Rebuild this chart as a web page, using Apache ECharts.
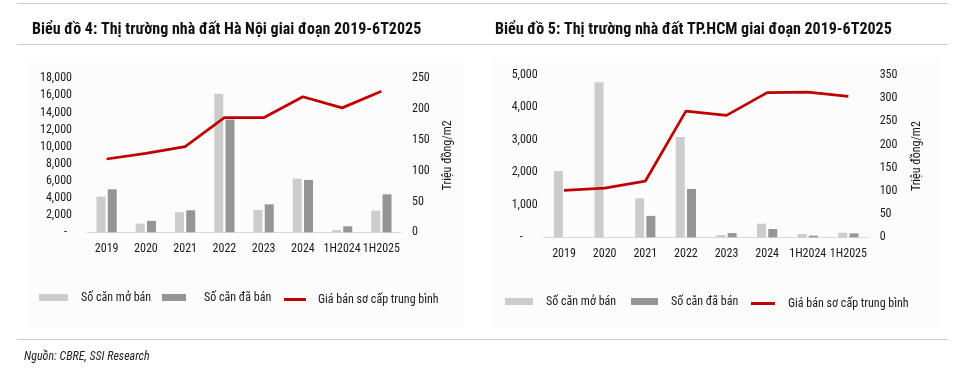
<!DOCTYPE html>
<html>
<head>
<meta charset="utf-8">
<script src="https://cdn.jsdelivr.net/npm/echarts@6/dist/echarts.min.js"></script>
<style>
html,body{margin:0;padding:0;background:#fff;}
#c{width:959px;height:374px;}
</style>
</head>
<body>
<div id="c"></div>
<script>
// ---- data ----
var categories = ['2019','2020','2021','2022','2023','2024','1H2024','1H2025'];
// Hà Nội
var hnOpened = [4170, 1010, 2340, 16200, 2610, 6270, 270, 2530];
var hnSold   = [5030, 1330, 2570, 13170, 3270, 6120, 700, 4440];
var hnPrice  = [119, 128, 139, 186, 186, 220, 202, 229];
// TP.HCM
var hcmOpened = [2040, 4780, 1200, 3090, 70, 420, 100, 140];
var hcmSold   = [0, 0, 660, 1490, 130, 255, 50, 120];
var hcmPrice  = [101, 106, 121, 272, 263, 312, 313, 304];
// axis ticks
var hnLeftTicks = {min:0, max:18000, interval:2000};
var hnRightTicks = {min:0, max:250, interval:50};
var hcmLeftTicks = {min:0, max:5000, interval:1000};
var hcmRightTicks = {min:0, max:350, interval:50};
var seriesNames = ['Số căn mở bán','Số căn đã bán','Giá bán sơ cấp trung bình'];
var titles = ['Biểu đồ 4: Thị trường nhà đất Hà Nội giai đoạn 2019-6T2025','Biểu đồ 5: Thị trường nhà đất TP.HCM giai đoạn 2019-6T2025'];
var axisName = 'Triệu đồng/m2';
var sourceText = 'Nguồn: CBRE, SSI Research';

var FONT = '"Roboto Condensed", sans-serif';
var LIGHT = '#cccccc', DARK = '#959595', RED = '#c00000', TXT = '#1a1a1a';

function fmtLeft(padRight){
  return {
    formatter: function(v){ return v === 0 ? '{z|-}' : v.toLocaleString('en-US'); },
    rich: { z: { padding:[0,padRight,0,0], fontFamily:FONT, fontSize:12, color:TXT } }
  };
}

var chart = echarts.init(document.getElementById('c'), null, {renderer:'canvas'});

var grids = [
  {left:87, top:78.3, width:314, height:154},
  {left:543.7, top:75, width:325, height:162.3}
];

function xAx(gi, margin){
  return {type:'category', gridIndex:gi, data:categories,
    axisLine:{lineStyle:{color:'#d9d9d9', width:1}}, axisTick:{show:false},
    axisLabel:{color:TXT, fontFamily:FONT, fontSize:12, margin:margin, interval:0}};
}
function yLeft(gi, t, pad, margin){
  var f = fmtLeft(pad);
  return {type:'value', gridIndex:gi, min:t.min, max:t.max, interval:t.interval,
    splitLine:{show:false}, axisLine:{show:false}, axisTick:{show:false},
    axisLabel:{color:TXT, fontFamily:FONT, fontSize:12, margin:margin, formatter:f.formatter, rich:f.rich}};
}
function yRight(gi, t, gap){
  return {type:'value', gridIndex:gi, position:'right', min:t.min, max:t.max, interval:t.interval,
    splitLine:{show:false}, axisLine:{show:false}, axisTick:{show:false},
    name:axisName, nameLocation:'middle', nameRotate:90, nameGap:gap,
    nameTextStyle:{color:TXT, fontFamily:FONT, fontSize:12},
    axisLabel:{color:TXT, fontFamily:FONT, fontSize:12, margin:11}};
}

function barS(name, data, color, xi, yi){
  return {name:name, type:'bar', xAxisIndex:xi, yAxisIndex:yi, data:data, barWidth:9, barGap:'25%',
    itemStyle:{color:color}, emphasis:{disabled:true}, animation:false};
}
function lineS(name, data, xi, yi){
  return {name:name, type:'line', xAxisIndex:xi, yAxisIndex:yi, data:data, symbol:'none',
    lineStyle:{color:RED, width:2.75}, itemStyle:{color:RED}, emphasis:{disabled:true}, animation:false, z:5};
}

function leg(left, top, name, w, h, pad){
  return {left:left, top:top, data:[{name:name, icon:'rect'}], itemWidth:w, itemHeight:h,
    selectedMode:false, padding:0,
    textStyle:{color:TXT, fontFamily:FONT, fontSize:12, padding:[0,0,0,pad]}};
}

var option = {
  animation:false,
  backgroundColor:'#ffffff',
  title:[
    {text:titles[0], left:27, top:17, textStyle:{fontFamily:FONT, fontWeight:'bold', fontSize:16, color:'#111'}},
    {text:titles[1], left:490, top:17, textStyle:{fontFamily:FONT, fontWeight:'bold', fontSize:16, color:'#111'}}
  ],
  graphic:[
    {type:'rect', shape:{x:27,y:58,width:438,height:270}, style:{fill:'#fcfcfc'}, z:-10, silent:true},
    {type:'rect', shape:{x:494,y:58,width:444,height:270}, style:{fill:'#fcfcfc'}, z:-10, silent:true},
    {type:'line', shape:{x1:17,y1:3.5,x2:948,y2:3.5}, style:{stroke:'#c8c8c8', lineWidth:1}, silent:true},
    {type:'line', shape:{x1:17,y1:44.5,x2:948,y2:44.5}, style:{stroke:'#c8c8c8', lineWidth:1}, silent:true},
    {type:'line', shape:{x1:17,y1:339.5,x2:948,y2:339.5}, style:{stroke:'#c8c8c8', lineWidth:1}, silent:true},
    {type:'text', left:24, top:351, style:{text:sourceText, fontFamily:FONT, fontStyle:'italic', fontSize:12, fill:'#222'}, silent:true}
  ],
  legend:[
    leg(39, 291.5, seriesNames[0], 29, 7, 8),
    leg(162, 291.5, seriesNames[1], 24, 7, 13),
    leg(284, 293.5, seriesNames[2], 22, 3, 7),
    leg(505, 295.5, seriesNames[0], 28, 7, 8),
    leg(631, 295.5, seriesNames[1], 27, 7, 8),
    leg(751, 297.5, seriesNames[2], 24, 3, 8)
  ],
  grid:grids,
  xAxis:[xAx(0, 11), xAx(1, 11)],
  yAxis:[yLeft(0, hnLeftTicks, 5, 15), yRight(0, hnRightTicks, 41), yLeft(1, hcmLeftTicks, 15, 6), yRight(1, hcmRightTicks, 42)],
  series:[
    barS(seriesNames[0], hnOpened, LIGHT, 0, 0),
    barS(seriesNames[1], hnSold, DARK, 0, 0),
    lineS(seriesNames[2], hnPrice, 0, 1),
    barS(seriesNames[0], hcmOpened, LIGHT, 1, 2),
    barS(seriesNames[1], hcmSold, DARK, 1, 2),
    lineS(seriesNames[2], hcmPrice, 1, 3)
  ]
};
chart.setOption(option);
</script>
</body>
</html>
